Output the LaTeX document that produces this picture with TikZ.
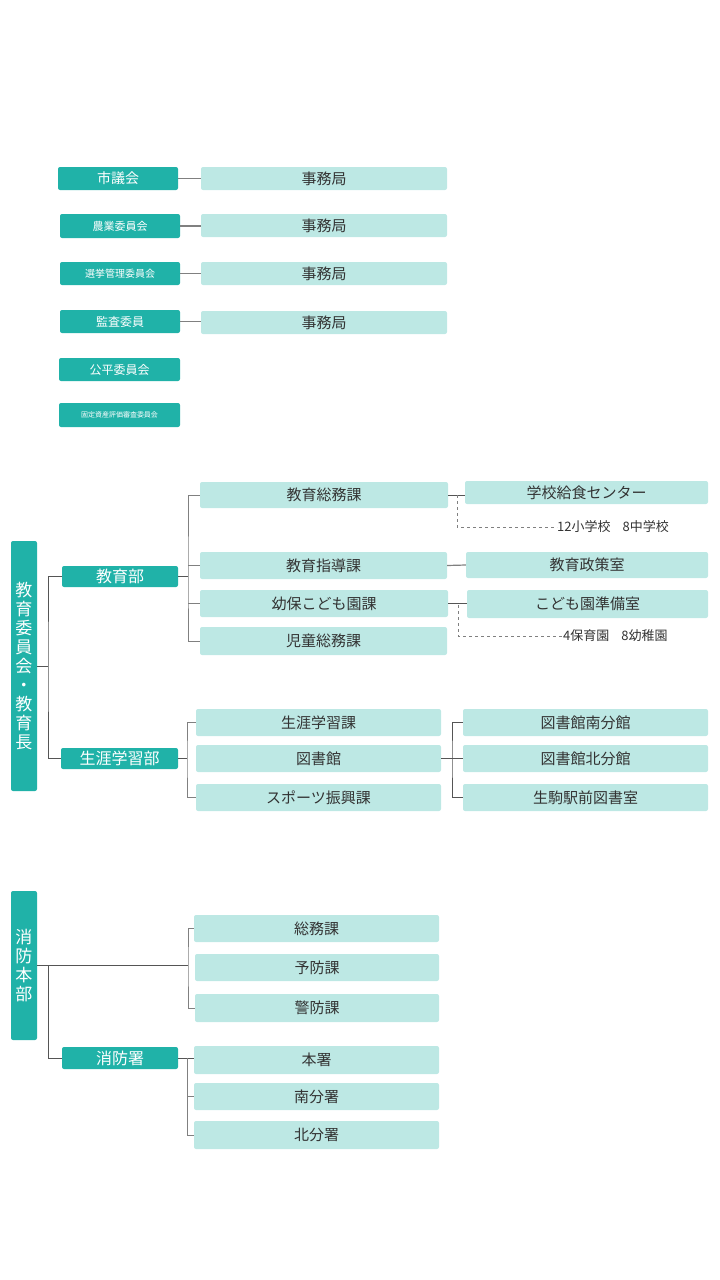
\documentclass[tikz,border=0pt]{standalone}
\usepackage{fontspec}
\setmainfont{Noto Sans CJK JP}
\definecolor{teal1}{HTML}{20B2A8}
\definecolor{light1}{HTML}{BDE8E4}
\definecolor{txt}{HTML}{333333}
\definecolor{ln}{HTML}{555555}
\begin{document}
\begin{tikzpicture}[x=1pt,y=-1pt,
 dk/.style={fill=teal1,rounded corners=2pt,text=white,font=\fontsize{14}{16}\selectfont,inner sep=0pt},
 lt/.style={fill=light1,rounded corners=2pt,text=txt,font=\fontsize{15}{17}\selectfont,inner sep=0pt},
 cn/.style={draw=ln,line width=0.8pt},
 gc/.style={draw=gray,line width=1.2pt},
 dsh/.style={draw=gray,dashed,line width=0.7pt},
 nt/.style={text=txt,font=\fontsize{13}{15}\selectfont,inner sep=0pt}]
\useasboundingbox (0,0) rectangle (720,1280);
\newcommand{\bx}[6]{\node[#1,minimum width=#4-#2,minimum height=#5-#3] (#6) at ({(#2+#4)/2},{(#3+#5)/2}) {};}
% top group
\node[dk,minimum width=120,minimum height=23] (a1) at (118,178.5) {市議会};
\node[dk,minimum width=120,minimum height=24,font=\fontsize{11}{13}\selectfont] (a2) at (120,226) {農業委員会};
\node[dk,minimum width=120,minimum height=23,font=\fontsize{10}{12}\selectfont] (a3) at (120,273.5) {選挙管理委員会};
\node[dk,minimum width=120,minimum height=23,font=\fontsize{12}{14}\selectfont] (a4) at (120,321.5) {監査委員};
\node[dk,minimum width=121,minimum height=23,font=\fontsize{12}{14}\selectfont] (a5) at (119.5,369.5) {公平委員会};
\node[dk,minimum width=121,minimum height=24,font=\fontsize{7}{8}\selectfont] (a6) at (119.5,415) {固定資産評価審査委員会};
\node[lt,minimum width=246,minimum height=23] (b1) at (324,178.5) {事務局};
\node[lt,minimum width=246,minimum height=23] (b2) at (324,225.5) {事務局};
\node[lt,minimum width=246,minimum height=23] (b3) at (324,273.5) {事務局};
\node[lt,minimum width=246,minimum height=23] (b4) at (324,322.5) {事務局};
\foreach \i in {1,...,4} \draw[gc] (a\i.east) -- (b\i.west|-a\i.east);
% education
\node[dk,minimum width=26,minimum height=250,font=\fontsize{17}{19}\selectfont,align=center] (e0) at (24,666) {教\\育\\委\\員\\会\\・\\教\\育\\長};
\node[dk,minimum width=116,minimum height=21,font=\fontsize{16}{18}\selectfont] (e1) at (120,576.5) {教育部};
\node[dk,minimum width=117,minimum height=21,font=\fontsize{16}{18}\selectfont] (e2) at (119.5,758.5) {生涯学習部};
\node[lt,minimum width=248,minimum height=26] (c1) at (324,495) {教育総務課};
\node[lt,minimum width=247,minimum height=27] (c2) at (323.5,565.5) {教育指導課};
\node[lt,minimum width=248,minimum height=27] (c3) at (324,603.5) {幼保こども園課};
\node[lt,minimum width=247,minimum height=28] (c4) at (323.5,641) {児童総務課};
\node[lt,minimum width=243,minimum height=23] (d1) at (586.5,492.5) {学校給食センター};
\node[lt,minimum width=242,minimum height=26] (d2) at (587,565) {教育政策室};
\node[lt,minimum width=241,minimum height=28] (d3) at (587.5,604) {こども園準備室};
\node[nt,anchor=west] (n1) at (557,527) {12小学校\hspace{12pt}8中学校};
\node[nt,anchor=west] (n2) at (563,636) {4保育園\hspace{12pt}8幼稚園};
\draw[cn] (e0.east|-0,666) -- (48,666);
\draw[cn] (e1.west) -| (48,666) |- (e2.west);
\draw[cn] (e1.east) -- (188,576.5);
\draw[gc,line width=0.9pt] (c1.west) -| (188,576.5) |- (c4.west);
\draw[gc,line width=0.9pt] (188,565.5) -- (c2.west);
\draw[gc,line width=0.9pt] (188,603.5) -- (c3.west);
\draw[cn] (c1.east) -- (d1.west|-c1.east);
\draw[gc] (c2.east) -- (d2.west);
\draw[cn] (c3.east) -- (d3.west|-c3.east);
\draw[dsh] (457,495) |- (n1.west);
\draw[dsh] (458,605) |- (n2.west);
\node[lt,minimum width=245,minimum height=27] (f1) at (318.5,722.5) {生涯学習課};
\node[lt,minimum width=245,minimum height=27] (f2) at (318.5,758.5) {図書館};
\node[lt,minimum width=245,minimum height=27] (f3) at (318.5,797.5) {スポーツ振興課};
\node[lt,minimum width=245,minimum height=27] (g1) at (585.5,722.5) {図書館南分館};
\node[lt,minimum width=245,minimum height=27] (g2) at (585.5,758.5) {図書館北分館};
\node[lt,minimum width=245,minimum height=27] (g3) at (585.5,797.5) {生駒駅前図書室};
\draw[cn] (e2.east) -- (187,758.5);
\draw[gc,line width=0.9pt] (f1.west) -| (187,758.5) |- (f3.west);
\draw[cn] (f2.east) -- (452,758.5);
\draw[cn] (g1.west) -| (452,758.5) |- (g3.west);
\draw[cn] (452,758.5) -- (g2.west);
% fire
\node[dk,minimum width=26,minimum height=149,font=\fontsize{17}{19}\selectfont,align=center] (h0) at (24,965.5) {消\\防\\本\\部};
\node[dk,minimum width=116,minimum height=22,font=\fontsize{16}{18}\selectfont] (h1) at (120,1058) {消防署};
\node[lt,minimum width=245,minimum height=27] (k1) at (316.5,928.5) {総務課};
\node[lt,minimum width=244,minimum height=27] (k2) at (317,967.5) {予防課};
\node[lt,minimum width=244,minimum height=28] (k3) at (317,1008) {警防課};
\node[lt,minimum width=245,minimum height=28] (m1) at (316.5,1060) {本署};
\node[lt,minimum width=245,minimum height=27] (m2) at (316.5,1096.5) {南分署};
\node[lt,minimum width=245,minimum height=28] (m3) at (316.5,1135) {北分署};
\draw[cn] (h0.east|-0,965) -- (188,965);
\draw[cn] (48,965) |- (h1.west);
\draw[gc,line width=0.9pt] (k1.west) -| (188,965) |- (k3.west);
\draw[cn] (h1.east) -- (m1.west|-h1.east);
\draw[gc,line width=0.9pt] (187,1058) |- (m3.west);
\draw[gc,line width=0.9pt] (187,1096.5) -- (m2.west);
\end{tikzpicture}
\end{document}
